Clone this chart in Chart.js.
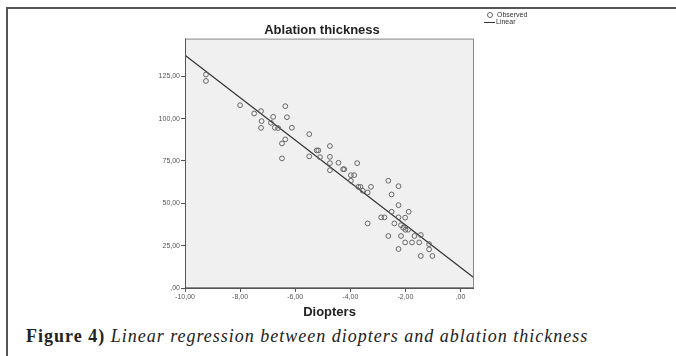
<!DOCTYPE html>
<html>
<head>
<meta charset="utf-8">
<script src="https://cdn.jsdelivr.net/npm/chart.js@4.4.1/dist/chart.umd.min.js"></script>
<style>
  html, body { margin: 0; padding: 0; background: #fff; }
  body { width: 676px; height: 356px; position: relative; overflow: hidden; }
  .frame { position: absolute; left: 6px; top: 7px; width: 680px; height: 360px;
           border-top: 2px solid #555; border-left: 2px solid #555; }
  .wrap { position: absolute; left: 0; top: 0; width: 644px; height: 322px; }
  .legend { position: absolute; left: 484px; top: 11px; font-family: Arial, "Liberation Sans", sans-serif;
            font-size: 7px; color: #333; line-height: 7px; }
  .legend div { white-space: nowrap; height: 7px; }
  .legend .dot { display: inline-block; width: 4px; height: 4px; border: 1px solid #666; border-radius: 50%;
                 margin: 0 4px 0 3px; vertical-align: middle; }
  .legend .ln { display: inline-block; width: 11px; border-top: 1px solid #333; margin-right: 1px; vertical-align: middle; }
  .caption { position: absolute; left: 26px; top: 326px; font-family: "Liberation Serif", "DejaVu Serif", serif;
             font-size: 18px; letter-spacing: 1px; color: #222; white-space: nowrap; }
  .caption b { font-weight: bold; }
  .caption i { font-style: italic; }
</style>
</head>
<body>
<div class="frame"></div>
<div class="wrap"><canvas id="myChart" width="644" height="322"></canvas></div>
<div class="legend" id="legend"></div>
<div class="caption"><b>Figure 4)</b> <i>Linear regression between diopters and ablation thickness</i></div>

<script>
// observed points (diopters, ablation thickness)
const obsX = [-9.24, -9.24, -8.00, -7.49, -7.24, -7.22, -7.24, -6.80, -6.88, -6.74, -6.62,
              -6.36, -6.30, -6.12, -6.36, -6.48, -6.48, -5.49, -5.49, -5.22, -5.16, -5.10,
              -4.74, -4.74, -4.74, -4.43, -4.74, -4.26, -4.22, -3.75, -3.98, -3.86, -3.98,
              -3.71, -3.63, -3.25, -3.55, -3.37, -3.37, -2.62, -2.25, -2.50, -2.25, -2.50,
              -1.88, -2.88, -2.76, -2.25, -2.01, -2.40, -2.16, -2.08, -2.00, -1.90, -2.62,
              -2.16, -1.67, -1.44, -2.01, -1.76, -1.50, -1.14, -1.14, -2.25, -1.44, -1.02];
const obsY = [126.0, 122.2, 107.9, 103.0, 104.4, 98.5, 94.5, 101.0, 97.5, 94.6, 94.4,
              107.3, 100.8, 94.6, 87.7, 85.3, 76.5, 90.8, 77.7, 81.2, 81.2, 77.2,
              83.8, 77.4, 73.7, 73.9, 69.5, 70.1, 70.1, 73.7, 66.6, 66.6, 63.3,
              59.7, 59.7, 59.7, 57.4, 56.4, 38.1, 63.3, 60.1, 55.2, 48.9, 45.0,
              45.0, 41.7, 41.7, 41.7, 41.5, 38.1, 37.1, 35.6, 34.4, 34.4, 30.7,
              30.7, 30.7, 31.3, 26.9, 26.9, 26.9, 25.9, 22.8, 23.0, 18.9, 18.9];

// fitted line, its two ends at the plot edges
const fitX = [-10, 0.49];
const fitY = [137.4, 6.07];

const xTicks = [-10, -8, -6, -4, -2, 0];
const yTicks = [0, 25, 50, 75, 100, 125];

const observed = obsX.map((x, i) => ({x: x, y: obsY[i]}));
const linear = fitX.map((x, i) => ({x: x, y: fitY[i]}));

const fmt = v => v === 0 ? ',00' : v.toFixed(2).replace('.', ',');

const plotBox = {
    id: 'plotBox',
    beforeDraw(chart) {
        const a = chart.chartArea, ctx = chart.ctx;
        ctx.save();
        ctx.fillStyle = '#f0f0f0';
        ctx.fillRect(a.left, a.top, a.right - a.left, a.bottom - a.top);
        ctx.restore();
    },
    afterDraw(chart) {
        const a = chart.chartArea, ctx = chart.ctx;
        ctx.save();
        ctx.strokeStyle = '#8a8a8a';
        ctx.lineWidth = 1;
        ctx.strokeRect(a.left + 0.5, a.top + 0.5, a.right - a.left - 1, a.bottom - a.top - 1);
        ctx.strokeStyle = '#555';
        ctx.beginPath();
        ctx.moveTo(a.left + 0.5, a.top);
        ctx.lineTo(a.left + 0.5, a.bottom + 0.5);
        ctx.lineTo(a.right, a.bottom + 0.5);
        ctx.stroke();
        ctx.restore();
    }
};

const tickFont = {family: 'Arial, "Liberation Sans", sans-serif', size: 7};

const config = {
    type: 'scatter',
    data: {
        datasets: [{
            type: 'scatter',
            label: 'Observed',
            data: observed,
            pointStyle: 'circle',
            pointRadius: 2.4,
            pointBorderWidth: 1,
            borderColor: '#666',
            backgroundColor: 'rgba(0,0,0,0)',
            pointHoverRadius: 2.4
        }, {
            type: 'line',
            label: 'Linear',
            data: linear,
            borderColor: '#333',
            backgroundColor: '#333',
            borderWidth: 1.3,
            pointRadius: 0,
            fill: false
        }]
    },
    options: {
        responsive: false,
        animation: false,
        layout: {padding: 0},
        plugins: {
            tooltip: {enabled: false},
            legend: {display: false},
            title: {
                display: true,
                text: 'Ablation thickness',
                color: '#222',
                font: {family: 'Arial, "Liberation Sans", sans-serif', size: 13, weight: 'bold'},
                padding: {top: 23, bottom: 0}
            }
        },
        scales: {
            x: {
                type: 'linear',
                min: -10,
                max: 0.49,
                afterBuildTicks: s => { s.ticks = xTicks.map(v => ({value: v})); },
                afterFit: s => { s.height = 34; },
                border: {display: false},
                grid: {drawOnChartArea: false, drawTicks: true, tickLength: 4, color: '#555'},
                ticks: {callback: v => fmt(v), color: '#555', font: tickFont, padding: 1, maxRotation: 0},
                title: {
                    display: true,
                    text: 'Diopters',
                    color: '#222',
                    font: {family: 'Arial, "Liberation Sans", sans-serif', size: 13, weight: 'bold'},
                    padding: {top: 0, bottom: 2}
                }
            },
            y: {
                type: 'linear',
                min: 0,
                max: 147.2,
                afterBuildTicks: s => { s.ticks = yTicks.map(v => ({value: v})); },
                afterFit: s => { s.width = 185; },
                border: {display: false},
                grid: {drawOnChartArea: false, drawTicks: true, tickLength: 4, color: '#555'},
                ticks: {callback: v => fmt(v), color: '#555', font: tickFont, padding: 1}
            },
            // empty right-hand axis: just the blank room where the legend sits
            gap: {
                type: 'linear',
                position: 'right',
                afterFit: s => { s.width = 170; },
                border: {display: false},
                grid: {display: false},
                ticks: {display: false}
            }
        }
    },
    plugins: [plotBox]
};

const myChart = new Chart(document.getElementById('myChart'), config);

// small legend next to the plot, built from the chart's datasets
const $legend = document.getElementById('legend');
myChart.data.datasets.forEach((ds) => {
    const row = document.createElement('div');
    const mark = document.createElement('span');
    mark.className = ds.type === 'line' ? 'ln' : 'dot';
    row.appendChild(mark);
    row.appendChild(document.createTextNode(ds.label));
    $legend.appendChild(row);
});
</script>
</body>
</html>
